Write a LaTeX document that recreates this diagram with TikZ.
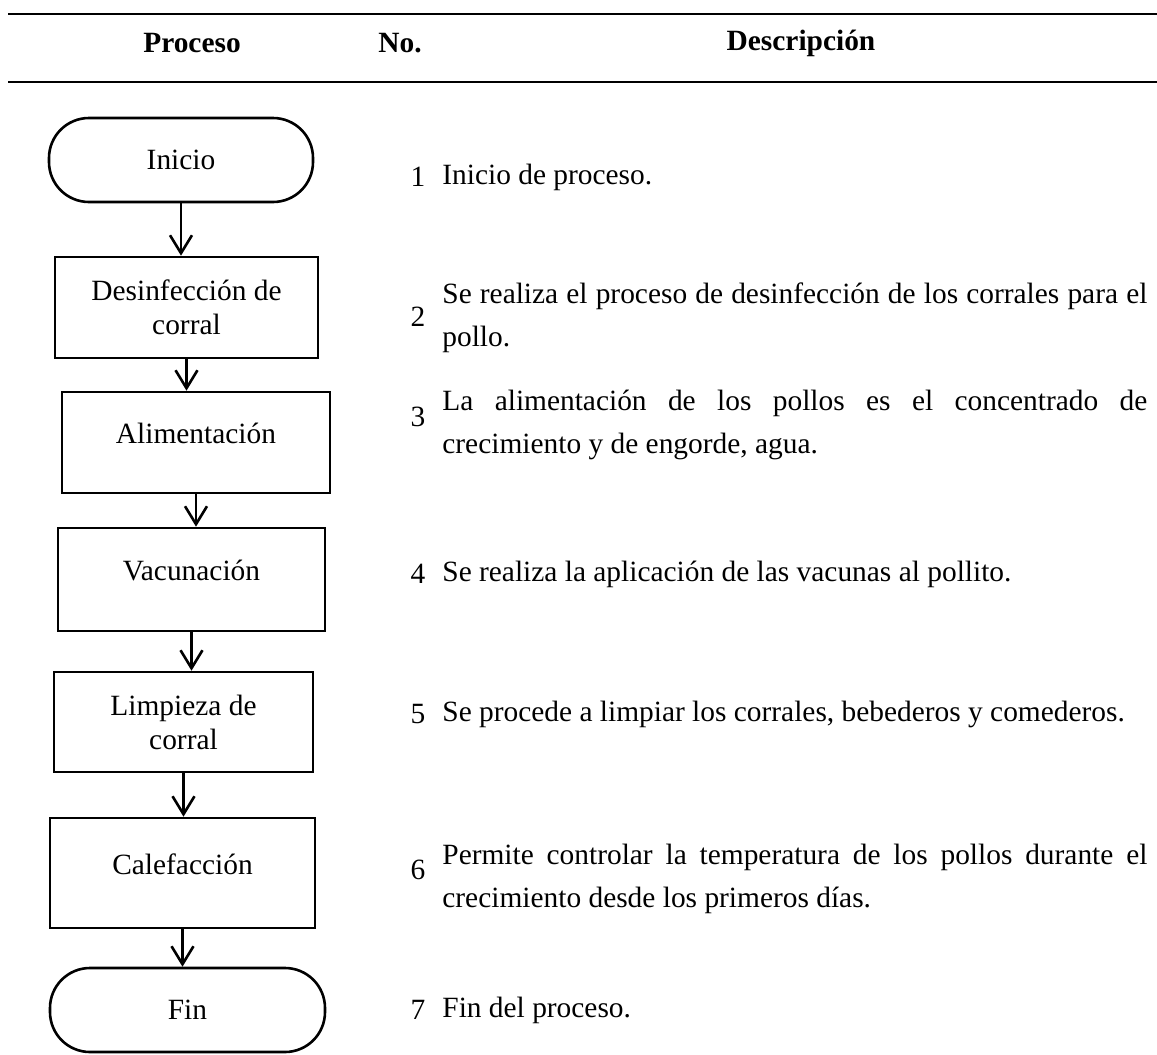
\documentclass[tikz,border=0pt]{standalone}
\usepackage{fontspec}
\setmainfont{Liberation Serif}
\usetikzlibrary{arrows.meta}
\setlength{\parindent}{0pt}
\begin{document}
\begin{tikzpicture}[x=0.5pt, y=-0.5pt, >={Straight Barb[length=9pt,width=11pt]},
    font=\fontsize{14.7pt}{17pt}\selectfont,
    paso/.style={draw, line width=1.3pt, inner sep=0pt, align=center},
    terminal/.style={paso, rounded corners=20pt},
    arriba/.style={text depth=9pt},
    flecha/.style={->, line width=1.3pt},
    titulo/.style={font=\fontsize{14.7pt}{17pt}\selectfont\bfseries},
    desc/.style={anchor=west, inner sep=0pt, text width=352.5pt, align=justify,
        font=\fontsize{14.7pt}{21.5pt}\selectfont},
    num/.style={inner sep=0pt}]
\useasboundingbox (0,0) rectangle (1157,1055);
% encabezado de la tabla
\draw[line width=1pt] (8,14) -- (1157,14);
\draw[line width=1pt] (8,82) -- (1157,82);
\node[titulo] (hproc) at (192,43) {Proceso};
\node[titulo] (hnum) at (400,43) {No.};
\node[titulo] (hdesc) at (801,43) {Descripción};

% diagrama
\node[terminal, minimum width=132pt, minimum height=42pt] (ini) at (181,160) {Inicio};
\node[paso, minimum width=131.5pt, minimum height=50.5pt] (des) at (186.5,307.5) {Desinfección de\\corral};
\node[paso, arriba, minimum width=134pt, minimum height=50.5pt] (ali) at (196,442.5) {Alimentación};
\node[paso, arriba, minimum width=133.5pt, minimum height=51.5pt] (vac) at (191.5,579.5) {Vacunación};
\node[paso, minimum width=129.5pt, minimum height=50pt] (lim) at (183.5,722) {Limpieza de\\corral};
\node[paso, arriba, minimum width=132.5pt, minimum height=55pt] (cal) at (182.5,873) {Calefacción};
\node[terminal, minimum width=137.5pt, minimum height=42pt] (fin) at (187.5,1010) {Fin};

\draw[flecha] (ini.south) -- (ini.south |- des.north);
\draw[flecha] (des.south) -- (des.south |- ali.north);
\draw[flecha] (ali.south) -- (ali.south |- vac.north);
\draw[flecha] (vac.south) -- (vac.south |- lim.north);
\draw[flecha] (lim.south) -- (lim.south |- cal.north);
\draw[flecha] (cal.south) -- (cal.south |- fin.north);

% numeros y descripciones
\node[num] (n1) at (418,177) {1};
\node[desc] (d1) at (442,177) {Inicio de proceso.};
\node[num] (n2) at (418,317) {2};
\node[desc] (d2) at (442,317.5) {Se realiza el proceso de desinfección de los corrales para el\linebreak pollo.};
\node[num] (n3) at (418,417) {3};
\node[desc] (d3) at (442,425) {La alimentación de los pollos es el concentrado de\linebreak crecimiento y de engorde, agua.};
\node[num] (n4) at (418,574) {4};
\node[desc] (d4) at (442,574) {Se realiza la aplicación de las vacunas al pollito.};
\node[num] (n5) at (418,714) {5};
\node[desc] (d5) at (442,714) {Se procede a limpiar los corrales, bebederos y comederos.};
\node[num] (n6) at (418,870) {6};
\node[desc] (d6) at (442,879) {Permite controlar la temperatura de los pollos durante el\linebreak crecimiento desde los primeros días.};
\node[num] (n7) at (418,1010) {7};
\node[desc] (d7) at (442,1010) {Fin del proceso.};
\end{tikzpicture}
\end{document}
